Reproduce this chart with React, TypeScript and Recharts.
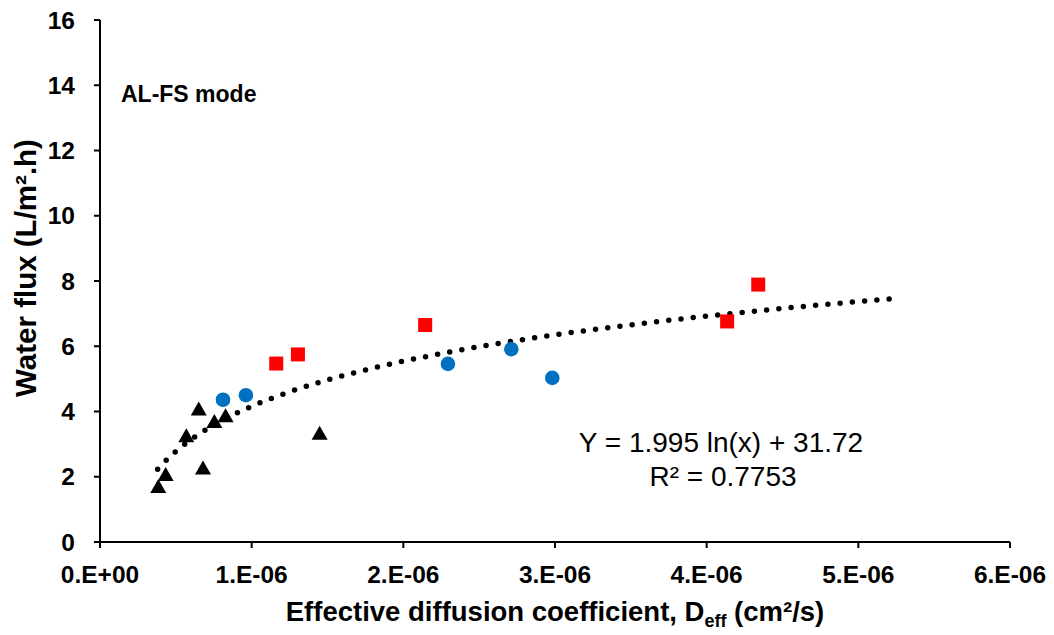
import React from "react";
import { ComposedChart, Scatter, Line, XAxis, YAxis } from "recharts";

// Series: black triangles
const triX = [0.384e-6, 0.433e-6, 0.569e-6, 0.651e-6, 0.679e-6, 0.754e-6, 0.828e-6, 1.448e-6];
const triY = [1.7, 2.07, 3.26, 4.08, 2.27, 3.69, 3.87, 3.33];
// Series: blue circles
const circX = [0.811e-6, 0.962e-6, 2.294e-6, 2.712e-6, 2.982e-6];
const circY = [4.36, 4.5, 5.46, 5.91, 5.03];
// Series: red squares
const sqX = [1.162e-6, 1.305e-6, 2.144e-6, 4.135e-6, 4.34e-6];
const sqY = [5.47, 5.75, 6.65, 6.76, 7.89];
// Log trendline (Y = 1.995 ln(x) + 31.72)
const trendX = [0.38e-6, 0.45e-6, 0.55e-6, 0.7e-6, 0.85e-6, 1.0e-6, 1.25e-6, 1.5e-6, 1.8e-6, 2.2e-6, 2.6e-6, 3.0e-6, 3.5e-6, 4.0e-6, 4.6e-6, 5.22e-6];
const trendY = [2.228, 2.565, 2.965, 3.446, 3.834, 4.158, 4.603, 4.967, 5.331, 5.731, 6.064, 6.35, 6.657, 6.924, 7.203, 7.455];

// Ticks
const xTicks = [0, 1e-6, 2e-6, 3e-6, 4e-6, 5e-6, 6e-6];
const xTickLabels = ["0.E+00", "1.E-06", "2.E-06", "3.E-06", "4.E-06", "5.E-06", "6.E-06"];
const yTicks = [0, 2, 4, 6, 8, 10, 12, 14, 16];

const triData = triX.map((x, i) => ({ x, y: triY[i] }));
const circData = circX.map((x, i) => ({ x, y: circY[i] }));
const sqData = sqX.map((x, i) => ({ x, y: sqY[i] }));
const trendData = trendX.map((x, i) => ({ x, y: trendY[i] }));

const FONT = "'Liberation Sans', Arial, sans-serif";

const Tri = (p: any) => {
  const { cx, cy } = p;
  if (cx == null || cy == null) return null;
  return <path d={`M${cx},${cy - 7.5} L${cx + 8},${cy + 6.5} L${cx - 8},${cy + 6.5} Z`} fill="#000000" />;
};
const Circ = (p: any) => {
  const { cx, cy } = p;
  if (cx == null || cy == null) return null;
  return <circle cx={cx} cy={cy} r={7.3} fill="#0070C0" />;
};
const Sq = (p: any) => {
  const { cx, cy } = p;
  if (cx == null || cy == null) return null;
  return <rect x={cx - 7} y={cy - 7} width={14} height={14} fill="#FF0000" />;
};

const XLabel = (p: any) => {
  const vb = p.viewBox || {};
  const cx = vb.x + vb.width / 2;
  const y = vb.y + 79;
  return (
    <text x={cx} y={y} textAnchor="middle" fontFamily={FONT} fontWeight="bold" fontSize={27.5} fill="#000">
      <tspan>Effective diffusion coefficient, D</tspan>
      <tspan fontSize={18} dy={6}>eff</tspan>
      <tspan dy={-6}> (cm²/s)</tspan>
    </text>
  );
};

const YLabel = () => {
  const x = 25;
  const y = 268;
  return (
    <text x={x} y={y} transform={`rotate(-90, ${x}, ${y})`} textAnchor="middle" dominantBaseline="central" fontFamily={FONT} fontWeight="bold" fontSize={29.5} fill="#000">
      Water flux (L/m².h)
    </text>
  );
};

export default function App() {
  return (
    <div style={{ position: "absolute", left: 0, top: 0, width: 1054, height: 635, background: "#fff" }}>
      <ComposedChart width={1054} height={635} margin={{ top: 20, right: 44, bottom: 0, left: 0 }}>
        <XAxis
          type="number"
          dataKey="x"
          domain={[0, 6e-6]}
          ticks={xTicks}
          allowDataOverflow
          height={93}
          tickSize={6}
          tickMargin={18}
          axisLine={{ stroke: "#000", strokeWidth: 2 }}
          tickLine={{ stroke: "#000", strokeWidth: 2 }}
          tick={{ fill: "#000", fontSize: 24.5, fontWeight: "bold", fontFamily: FONT }}
          tickFormatter={(v: number) => {
            const i = xTicks.findIndex((t) => Math.abs(t - v) < 1e-12);
            return i >= 0 ? xTickLabels[i] : "";
          }}
          label={{ content: XLabel }}
        />
        <YAxis
          type="number"
          dataKey="y"
          domain={[0, 16]}
          ticks={yTicks}
          allowDataOverflow
          width={100}
          tickSize={6}
          tickMargin={19}
          axisLine={{ stroke: "#000", strokeWidth: 2 }}
          tickLine={{ stroke: "#000", strokeWidth: 2 }}
          tick={{ fill: "#000", fontSize: 24.5, fontWeight: "bold", fontFamily: FONT }}
          label={{ content: YLabel }}
        />
        <Line
          data={trendData}
          dataKey="y"
          type="monotone"
          stroke="#000"
          strokeWidth={5.5}
          strokeDasharray="0 12.3"
          strokeLinecap="round"
          dot={false}
          activeDot={false}
          isAnimationActive={false}
          legendType="none"
        />
        <Scatter data={triData} dataKey="y" shape={Tri} isAnimationActive={false} />
        <Scatter data={circData} dataKey="y" shape={Circ} isAnimationActive={false} />
        <Scatter data={sqData} dataKey="y" shape={Sq} isAnimationActive={false} />
      </ComposedChart>
      <svg width={1054} height={635} style={{ position: "absolute", left: 0, top: 0, pointerEvents: "none" }}>
        <text x={121} y={102} fontFamily={FONT} fontWeight="bold" fontSize={23} fill="#000">AL-FS mode</text>
        <text x={721} y={452} textAnchor="middle" fontFamily={FONT} fontSize={28} fill="#000">Y = 1.995 ln(x) + 31.72</text>
        <text x={723} y={486} textAnchor="middle" fontFamily={FONT} fontSize={28} fill="#000">R² = 0.7753</text>
      </svg>
    </div>
  );
}
